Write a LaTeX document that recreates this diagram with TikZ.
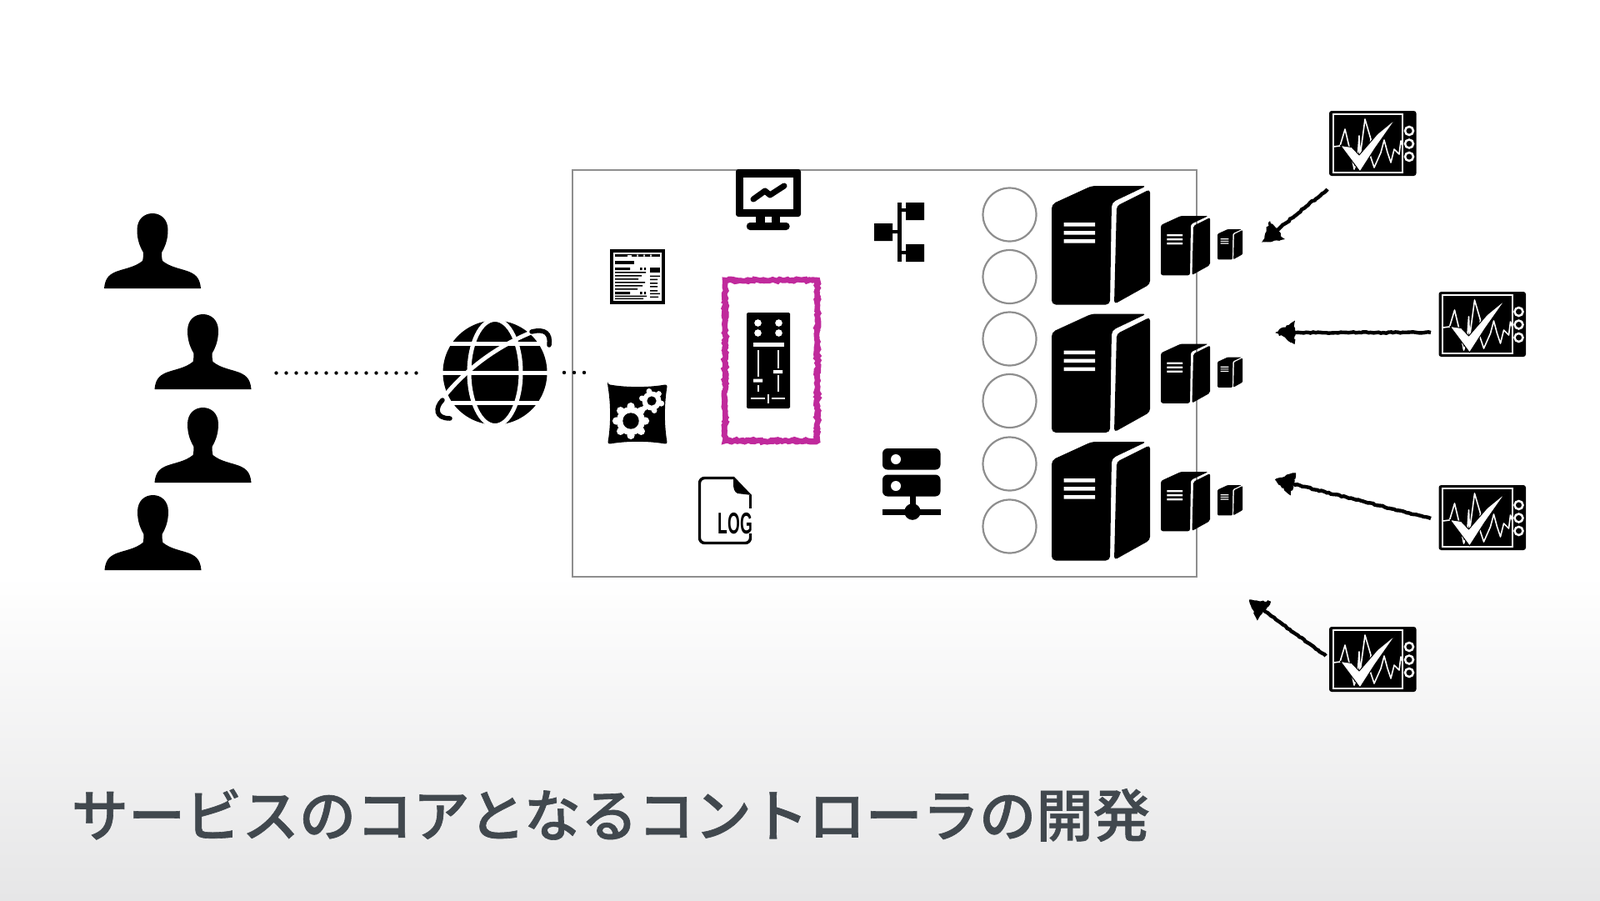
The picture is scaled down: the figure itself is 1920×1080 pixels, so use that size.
\documentclass[tikz,border=0pt]{standalone}
\usepackage{fontspec}
\newfontfamily\cjk[FakeBold=0.9]{Noto Sans CJK JP Medium}
\setmainfont{Liberation Sans}
\usetikzlibrary{decorations.pathmorphing,arrows.meta,calc}
\definecolor{boxgray}{HTML}{8E8E8E}
\definecolor{pink}{HTML}{C02A9C}
\definecolor{titlecol}{HTML}{41484E}
\definecolor{bottomgray}{HTML}{E6E6E7}
\tikzset{
  x=1pt,y=-1pt,
  ring/.style={draw=boxgray,line width=2.2pt,fill=white},
  roughpink/.style={draw=pink,line width=6.5pt,decorate,decoration={random steps,segment length=3pt,amplitude=1.3pt}},
  roughblack/.style={draw=black,line width=4.4pt,decorate,decoration={random steps,segment length=3pt,amplitude=.7pt}},
  roughhead/.style={draw=black,fill=black,line width=1.4pt,decorate,decoration={random steps,segment length=2.5pt,amplitude=1.2pt}},
  dots/.style={line width=4.4pt,line cap=round,dash pattern=on 0pt off 12pt},
  person/.pic={
    \fill (-58,90) .. controls (-57,80) and (-54,74) .. (-44,70)
      .. controls (-34,66) and (-22,65) .. (-12,57)
      .. controls (-11,53) and (-11,50) .. (-11,47)
      .. controls (-15,40) and (-18.5,32) .. (-18.5,20)
      .. controls (-18.5,7) and (-10,0) .. (0,0)
      .. controls (10,0) and (18.5,7) .. (18.5,20)
      .. controls (18.5,32) and (15,40) .. (11,47)
      .. controls (11,50) and (11,53) .. (12,57)
      .. controls (22,65) and (34,66) .. (44,70)
      .. controls (54,74) and (57,80) .. (58,90) -- cycle;
  },
  srv/.pic={
    \fill[rounded corners=\srvr pt] (0,142.5) -- (0,22) -- (48,0) -- (114,0) -- (72,20) -- (70,142.5) -- cycle;
    \fill[rounded corners=.8*\srvr pt] (118,4) -- (78,24) -- (75,142) -- (118,118) -- cycle;
    \fill[white] (14.5,44) rectangle (52,48.7) (14.5,54) rectangle (52,58.7) (14.5,64) rectangle (52,68.7);
  },
  chk/.pic={
    \fill[rounded corners=3pt] (0,0) rectangle (104.5,78);
    \draw[white,line width=2pt] (4.5,4) rectangle (88,74);
    \draw[white,line width=1.6pt,line join=round] (5,43) -- (13,42) -- (19,22) -- (24,43) -- (27,55) -- (30,70) -- (34,58) -- (36,30) -- (37,55) -- (43,10) -- (50,34) -- (48,50) -- (54,68) -- (62,50) -- (66,35) -- (70,50) -- (74,62) -- (78,46) -- (84,52) -- (86,36) -- (88,42);
    \filldraw[fill=white,draw=black,line width=1pt,line join=round] (13.5,41.5) -- (27,43.5) -- (36,53) -- (58,27.5) -- (80,9.5) -- (55,45) -- (37,73) -- cycle;
    \draw[white,line width=2.5pt] (96,24) circle (5) (96,39.5) circle (5) (96,55) circle (5);
  }
}
\begin{document}
\begin{tikzpicture}
\useasboundingbox (0,0) rectangle (1920,1080);
% background
\fill[white] (0,0) rectangle (1920,690);
\shade[top color=white,bottom color=bottomgray] (0,690) rectangle (1920,1080);
% container
\node[draw=boxgray,line width=2.2pt,minimum width=749pt,minimum height=488pt,inner sep=0pt,anchor=north west] (box) at (686,202.5) {};
% people
\pic at (183,256) {person};
\pic at (243.5,377) {person};
\pic at (243.5,489) {person};
\pic at (183.5,594) {person};
% dotted links
\coordinate (d1) at (331.5,447.5);
\coordinate (d2) at (505,447.5);
\coordinate (d3) at (677,447);
\coordinate (d4) at (702,447);
\draw[dots] (d1) -- (d2);
\draw[dots] (d3) -- (d4);
% globe
\begin{scope}[shift={(594,447)}]
  \fill (0,0) circle (62.5);
  \begin{scope}
    \clip (0,0) circle (63.5);
    \draw[white,line width=5pt] (-70,-35) -- (70,-35) (-70,0) -- (70,0) (-70,36) -- (70,36);
  \end{scope}
  \draw[white,line width=5pt] (0,0) ellipse (31 and 63.5);
  \draw[white,line width=5pt] (-62,30) .. controls (-30,-10) and (10,-35) .. (48,-50);
  \draw[line width=5.5pt,line cap=round] (44,-49) .. controls (60,-53) and (67,-47) .. (65,-33);
  \draw[line width=5.5pt,line cap=round] (-63,33) .. controls (-72,42) and (-72,55) .. (-54,55);
\end{scope}
% monitor
\fill[rounded corners=3pt] (883,203) rectangle (961,260);
\fill[white] (892,212.5) rectangle (952,251);
\fill (907,258) rectangle (936,268);
\fill[white] (917.5,260) rectangle (926,267);
\fill[rounded corners=4pt] (896,267) rectangle (947.5,276);
\draw[line width=7pt,line cap=round,line join=round] (904,239) -- (918,229) -- (924,234) -- (941,223);
% tree
\fill (1077,243) rectangle (1081.5,314);
\fill (1087,243) rectangle (1109,264) (1049,268) rectangle (1071,289) (1087,293) rectangle (1109,314);
\fill (1081,250) rectangle (1087,254) (1071,276) rectangle (1077,280) (1081,301) rectangle (1087,305);
% web page
\fill (732,299) rectangle (798,364.5);
\fill[white] (736,303) rectangle (794,360.5);
\fill (738,305) rectangle (792,308) ;
\fill[white] (753,305.5) rectangle (758,307.5);
\fill[white] (764,305.5) rectangle (766,307.5) (772,305.5) rectangle (774,307.5) (780,305.5) rectangle (782,307.5);
\fill (738,313) rectangle (761,317);
\fill (738,321) rectangle (756,324) (768,321) rectangle (770.5,324) (773,321) rectangle (775,324);
\fill (780,321) rectangle (792,327);
\fill (738,326) rectangle (775,327.5) (738,330) rectangle (770,331.5) (738,334) rectangle (766,335.5) (738,338) rectangle (774,339.5) (738,342) rectangle (771,343.5) (738,346) rectangle (765,347.5);
\fill (780,330.5) rectangle (792,332) (780,334.5) rectangle (789,336) (780,339) rectangle (789,340.5) (780,343) rectangle (789,344.5) (780,348) rectangle (789,349.5) (780,351.5) rectangle (792,353) (780,355.5) rectangle (790,357);
\fill (738,350) rectangle (756,353) (768,350) rectangle (770.5,353) (773,350) rectangle (775,353);
\fill (738,354.5) rectangle (776,356) (738,357.5) rectangle (772,359);
% pink highlight
\draw[roughpink] (870,336) rectangle (981,529);
\draw[roughpink,line width=5.5pt,decoration={random steps,segment length=4pt,amplitude=1.8pt}] (870.5,336.5) rectangle (980.5,528.5);
% mixer
\fill[rounded corners=1.5pt] (896,375) rectangle (948,490);
\fill[white] (909.5,387.5) circle (4.3) (934.5,387.5) circle (4.3) (909.5,399.5) circle (4.3) (934.5,399.5) circle (4.3);
\fill[white] (903.5,410.5) rectangle (941,415.5);
\draw[white,line width=1.5pt] (910,420) -- (910,452) (910,462) -- (910,470) (934,420) -- (934,442) (934,450) -- (934,470);
\fill[white] (904,454.5) rectangle (915,458.5) (928,444) rectangle (939,448);
\draw[white,line width=1.5pt] (901,478) -- (918,478) (926,478) -- (942,478);
\fill[white] (920.5,473) rectangle (923,483.5);
% gears
\fill[rounded corners=3pt] (729,461) .. controls (752,465) and (778,465) .. (801,461) .. controls (797,485) and (797,510) .. (801,533) .. controls (778,529) and (752,529) .. (729,533) .. controls (733,510) and (733,485) .. (729,461) -- cycle;
\begin{scope}[shift={(757,505)}]
  \fill[white] (0,0) circle (17);
  \foreach \a in {0,45,...,315} {\fill[white] (\a:17.5) circle (4.6);}
  \fill (0,0) circle (9.7);
\end{scope}
\begin{scope}[shift={(782,481)}]
  \fill[white] (0,0) circle (11.5);
  \foreach \a in {15,75,...,375} {\fill[white] (\a:12) circle (3.4);}
  \fill (0,0) circle (5.6);
\end{scope}
% log file
\draw[line width=3.4pt,rounded corners=6pt] (900.5,640) -- (900.5,651.5) -- (839.5,651.5) -- (839.5,573.5) -- (881,573.5);
\draw[line width=3.4pt] (900.5,610) -- (900.5,594) ;
\fill (880,572) -- (881,572) -- (902,594) -- (885,592) .. controls (881,590) and (880,586) .. (880,580) -- cycle;
\node[inner sep=0pt,anchor=south west,font=\bfseries\fontsize{36}{36}\selectfont] (logtxt) at (861.5,641) {\scalebox{0.53}[1]{LOG}};
% server rack icon
\fill[rounded corners=6pt] (1059,538) rectangle (1128.5,563.5);
\fill[rounded corners=6pt] (1059,569.5) rectangle (1128.5,595.5);
\fill[white] (1075,551) circle (6) (1075,583) circle (6);
\fill (1091.5,595) rectangle (1098.5,612);
\fill (1059,610.5) rectangle (1128.5,618);
\fill (1095,614) circle (9.8);
% circles
\foreach \n/\y in {1/257.5,2/332,3/406.5,4/481,5/556.5,6/631.5} {
  \node[ring,circle,minimum size=64pt,inner sep=0pt] (c\n) at (1211.5,\y) {};
}
% servers
\foreach \y in {223,376.5,530} {
  \def\srvr{5}
  \pic at (1262,\y) {srv};
  \def\srvr{2.5}
  \pic[scale=.5] at (1393,\y+36) {srv};
  \def\srvr{1.2}
  \pic[scale=.255] at (1461,\y+52) {srv};
}
% check monitors
\pic at (1595,133) {chk};
\pic at (1726.5,350) {chk};
\pic at (1726.5,582) {chk};
\pic at (1595,752) {chk};
% arrows
\coordinate (a1s) at (1593,227); \coordinate (a1e) at (1514,291);
\coordinate (a2s) at (1717,399); \coordinate (a2e) at (1530,399);
\coordinate (a3s) at (1717,622); \coordinate (a3e) at (1529,575);
\coordinate (a4s) at (1591,787); \coordinate (a4e) at (1498,719);
\foreach \s/\e in {a1s/a1e,a2s/a2e,a3s/a3e,a4s/a4e} {
  \draw[roughblack] (\s) -- ($(\e)!.09!(\s)$);
  \path[roughhead] ($(\e)!2pt!(\s)$) -- ($(\e)!23pt!(\s)!13pt!90:(\s)$) -- ($(\e)!23pt!(\s)!13pt!-90:(\s)$) -- cycle;
}
% title
\node[anchor=west,inner sep=0pt,text=titlecol,font=\cjk\fontsize{68.3}{70}\selectfont] (title) at (85.5,978) {サービスのコアとなるコントローラの開発};
\end{tikzpicture}
\end{document}
